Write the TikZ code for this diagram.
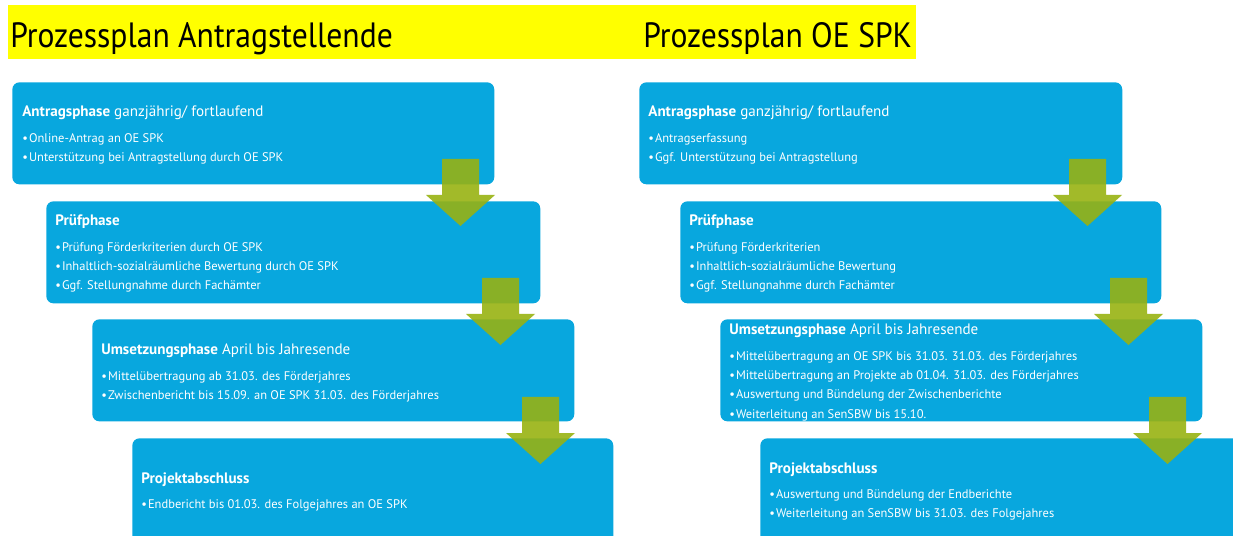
\documentclass[tikz,border=0pt]{standalone}
\usepackage{fontspec}
\setmainfont{PT Sans}
\newfontfamily\titlefont[FakeStretch=0.9]{PT Sans}
\usetikzlibrary{positioning}
\definecolor{spkblue}{RGB}{8,167,222}
\definecolor{arrowgreen}{RGB}{152,178,18}
\definecolor{titleyellow}{RGB}{255,255,0}

\begin{document}
\begin{tikzpicture}[x=0.02cm,y=-0.02cm,
		phasebox/.style={fill=spkblue,rounded corners=4pt,anchor=north west,inner sep=0pt,minimum height=2.04cm},
		titletext/.style={anchor=base west,inner sep=0pt,font=\titlefont\fontsize{20}{24}\selectfont},
		headline/.style={text=white,anchor=base west,inner sep=0pt,text height=6.5pt,text depth=2pt,font=\fontsize{8.6}{10}\selectfont},
		bulletline/.style={text=white,inner sep=0pt,text height=5.4pt,text depth=1.6pt,font=\fontsize{7.1}{9}\selectfont,execute at begin node=\textbullet\hspace{0.6pt}},
		flowarrow/.style={fill=arrowgreen,fill opacity=0.9}]
		\useasboundingbox (0,0) rectangle (1233,536);

		% titles
		\fill[titleyellow] (8,5) rectangle (916,59);
		\node[titletext]	(tleft)		at (10,48)	{Prozessplan Antragstellende};
		\node[titletext]	(tright)	at (643,48)	{Prozessplan OE SPK};

		% boxes left
		\node[phasebox,minimum width=9.64cm]						(l1)	at (12,82)		{};
		\node[phasebox,minimum width=9.88cm]						(l2)	at (46,201)		{};
		\node[phasebox,minimum width=9.64cm]						(l3)	at (92,319)		{};
		\node[phasebox,minimum width=9.62cm,minimum height=2.3cm]	(l4)	at (132,438)	{};
		% boxes right
		\node[phasebox,minimum width=9.66cm]						(r1)	at (639,82)		{};
		\node[phasebox,minimum width=9.62cm]						(r2)	at (680,201)	{};
		\node[phasebox,minimum width=9.64cm]						(r3)	at (720,319)	{};
		\node[phasebox,minimum width=10cm,minimum height=2.3cm]	(r4)	at (760,438)	{};

		% arrows
		\foreach \ax/\ay in {442/159, 482/278, 522/397, 1069/159, 1110/278, 1149/397}
			\fill[flowarrow] (\ax,\ay) -- ++(37,0) -- ++(0,36) -- ++(16,0) -- ++(-34.5,31) -- ++(-34.5,-31) -- ++(16,0) -- cycle;

		% texts left
		\node[headline]											(l1h)	at (22,117)		{\textbf{Antragsphase} ganzjährig/ fortlaufend};
		\node[bulletline,below right=6.8pt and 0pt of l1h.south west]	(l1a)	{Online-Antrag an OE SPK};
		\node[bulletline,below right=3.5pt and 0pt of l1a.south west]	(l1b)	{Unterstützung bei Antragstellung durch OE SPK};

		\node[headline]											(l2h)	at (55,226)		{\textbf{Prüfphase}};
		\node[bulletline,below right=6.8pt and 0pt of l2h.south west]	(l2a)	{Prüfung Förderkriterien durch OE SPK};
		\node[bulletline,below right=3.5pt and 0pt of l2a.south west]	(l2b)	{Inhaltlich-sozialräumliche Bewertung durch OE SPK};
		\node[bulletline,below right=3.5pt and 0pt of l2b.south west]	(l2c)	{Ggf. Stellungnahme durch Fachämter};

		\node[headline]											(l3h)	at (101,355)	{\textbf{Umsetzungsphase} April bis Jahresende};
		\node[bulletline,below right=6.8pt and 0pt of l3h.south west]	(l3a)	{Mittelübertragung ab 31.03. des Förderjahres};
		\node[bulletline,below right=3.5pt and 0pt of l3a.south west]	(l3b)	{Zwischenbericht bis 15.09. an OE SPK 31.03. des Förderjahres};

		\node[headline]											(l4h)	at (141,483)	{\textbf{Projektabschluss}};
		\node[bulletline,below right=6.8pt and 0pt of l4h.south west]	(l4a)	{Endbericht bis 01.03. des Folgejahres an OE SPK};

		% texts right
		\node[headline]											(r1h)	at (648,117)	{\textbf{Antragsphase} ganzjährig/ fortlaufend};
		\node[bulletline,below right=6.8pt and 0pt of r1h.south west]	(r1a)	{Antragserfassung};
		\node[bulletline,below right=3.5pt and 0pt of r1a.south west]	(r1b)	{Ggf. Unterstützung bei Antragstellung};

		\node[headline]											(r2h)	at (689,226)	{\textbf{Prüfphase}};
		\node[bulletline,below right=6.8pt and 0pt of r2h.south west]	(r2a)	{Prüfung Förderkriterien};
		\node[bulletline,below right=3.5pt and 0pt of r2a.south west]	(r2b)	{Inhaltlich-sozialräumliche Bewertung};
		\node[bulletline,below right=3.5pt and 0pt of r2b.south west]	(r2c)	{Ggf. Stellungnahme durch Fachämter};

		\node[headline]											(r3h)	at (729,335)	{\textbf{Umsetzungsphase} April bis Jahresende};
		\node[bulletline,below right=6.8pt and 0pt of r3h.south west]	(r3a)	{Mittelübertragung an OE SPK bis 31.03. 31.03. des Förderjahres};
		\node[bulletline,below right=3.5pt and 0pt of r3a.south west]	(r3b)	{Mittelübertragung an Projekte ab 01.04. 31.03. des Förderjahres};
		\node[bulletline,below right=3.5pt and 0pt of r3b.south west]	(r3c)	{Auswertung und Bündelung der Zwischenberichte};
		\node[bulletline,below right=3.5pt and 0pt of r3c.south west]	(r3d)	{Weiterleitung an SenSBW bis 15.10.};

		\node[headline]											(r4h)	at (769,473)	{\textbf{Projektabschluss}};
		\node[bulletline,below right=6.8pt and 0pt of r4h.south west]	(r4a)	{Auswertung und Bündelung der Endberichte};
		\node[bulletline,below right=3.5pt and 0pt of r4a.south west]	(r4b)	{Weiterleitung an SenSBW bis 31.03. des Folgejahres};
	\end{tikzpicture}
\end{document}
